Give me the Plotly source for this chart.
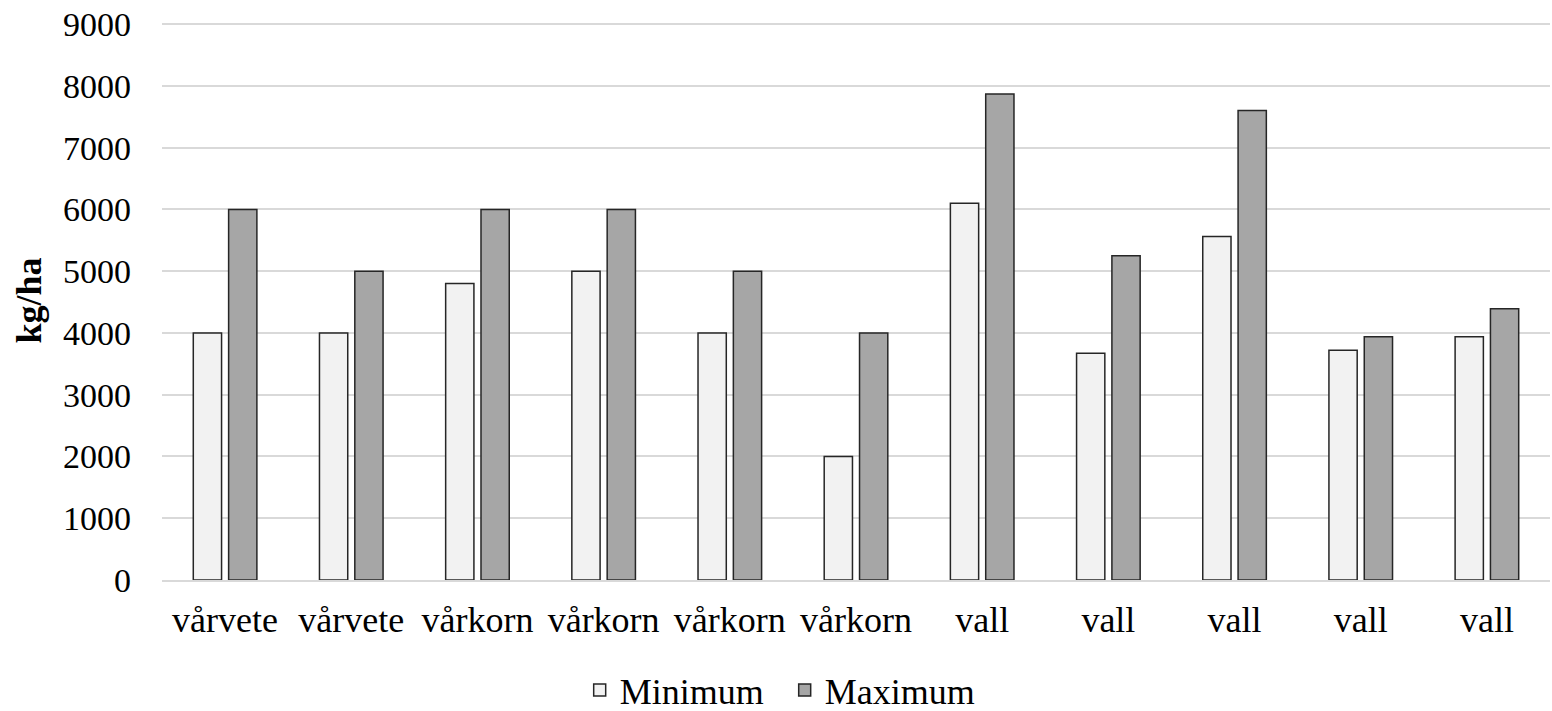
import plotly.graph_objects as go

categories = ["vårvete", "vårvete", "vårkorn", "vårkorn", "vårkorn", "vårkorn",
              "vall", "vall", "vall", "vall", "vall"]
minimum = [4000, 4000, 4800, 5000, 4000, 2000, 6100, 3670, 5560, 3720, 3940]
maximum = [6000, 5000, 6000, 6000, 5000, 4000, 7870, 5250, 7600, 3940, 4390]
y_ticks = [0, 1000, 2000, 3000, 4000, 5000, 6000, 7000, 8000, 9000]

positions = list(range(len(categories)))
FONT = "Liberation Serif, Times New Roman, serif"

fig = go.Figure()
fig.add_trace(go.Bar(x=positions, y=minimum, name="Minimum",
                     marker=dict(color="#f2f2f2", line=dict(color="#262626", width=1.5))))
fig.add_trace(go.Bar(x=positions, y=maximum, name="Maximum",
                     marker=dict(color="#a6a6a6", line=dict(color="#262626", width=1.5))))

fig.update_layout(
    width=1552, height=711,
    margin=dict(l=162, r=2, t=21, b=131),
    paper_bgcolor="white", plot_bgcolor="white",
    barmode="group", bargap=0.44, bargroupgap=0.2,
    font=dict(family=FONT, size=34, color="#000000"),
    showlegend=True,
    legend=dict(orientation="h", xref="container", yref="container",
                x=0.5056, xanchor="center", y=0.0295, yanchor="middle",
                font=dict(family=FONT, size=36, color="#000000"),
                itemwidth=30, entrywidth=160, tracegroupgap=0, bgcolor="rgba(0,0,0,0)"),
)
fig.update_xaxes(
    tickmode="array", tickvals=positions, ticktext=categories,
    range=[-0.5, len(categories) - 0.5], automargin=False,
    showgrid=False, showline=True, linecolor="#d9d9d9", linewidth=1.5,
    ticks="", ticklabelstandoff=7,
    tickfont=dict(family=FONT, size=36, color="#000000"),
    zeroline=False,
)
fig.update_yaxes(
    range=[0, 9050], tickmode="array", tickvals=y_ticks, automargin=False,
    showgrid=True, gridcolor="#d9d9d9", gridwidth=1.5,
    zeroline=False, showline=False, ticks="", ticklabelstandoff=30,
    ticklabeloverflow="allow",
    tickfont=dict(family=FONT, size=34, color="#000000"),
    title=dict(text="<b>kg/ha</b>", font=dict(family=FONT, size=36, color="#000000"), standoff=10),
)

# remove the page's default 8px body margin so the figure fills the window exactly
fig.write_html("out.html", config={"displayModeBar": False},
               post_script="document.body.style.margin='0';")
